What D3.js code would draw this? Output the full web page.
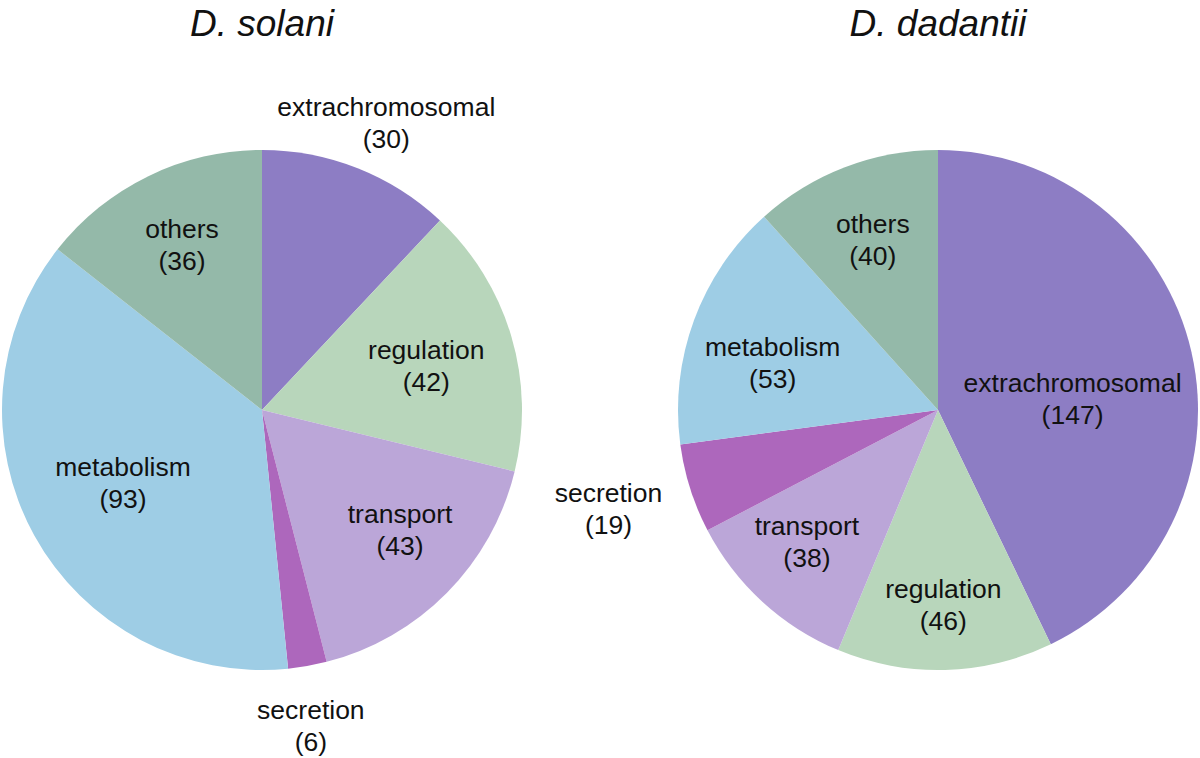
<!DOCTYPE html>
<html>
<head>
<meta charset="utf-8">
<script src="https://cdn.jsdelivr.net/npm/d3@7"></script>
<style>
  body { margin: 0; background: #fff; }
  svg { display: block; }
  text { font-family: "Liberation Sans", Arial, sans-serif; fill: #111; }
</style>
</head>
<body>
<div id="graph"></div>
<script>
// data
var categories = ["extrachromosomal", "regulation", "transport", "secretion", "metabolism", "others"];
var solaniValues = [30, 42, 43, 6, 93, 36];
var dadantiiValues = [147, 46, 38, 19, 53, 40];
var titles = ["D. solani", "D. dadantii"];
var colors = ["#8d7dc4", "#b8d6bb", "#bba6d8", "#ad67bc", "#9ecde5", "#94b9a9"];

// layout: label radius and small angle nudge (deg) for each slice
var solaniLabelR = [313, 170, 183, 320, 157, 183];
var solaniShift = [1.8, 1.6, -3.6, 1.3, 1.1, 0];
var dadantiiLabelR = [135, 195, 186, 344, 172, 182];
var dadantiiShift = [8.2, 0, 2.3, 0.9, -4.2, 0];

var width = 1200, height = 758;
var radius = 260;

var svg = d3.select("#graph").append("svg")
    .attr("width", width)
    .attr("height", height);

var color = d3.scaleOrdinal().domain(categories).range(colors);

var pie = d3.pie().sort(null).value(function(d){ return d.value; });
var arc = d3.arc().innerRadius(0).outerRadius(radius);

var charts = [
  {title: titles[0], values: solaniValues, cx: 262, cy: 410, labelR: solaniLabelR, shift: solaniShift},
  {title: titles[1], values: dadantiiValues, cx: 938, cy: 410, labelR: dadantiiLabelR, shift: dadantiiShift}
];

charts.forEach(function(c){
  var rows = categories.map(function(k, i){ return {name: k, value: c.values[i], i: i}; });

  var g = svg.append("g").attr("transform", "translate(" + c.cx + "," + c.cy + ")");

  g.selectAll("path")
    .data(pie(rows))
    .enter()
    .append("path")
    .attr("d", arc)
    .attr("fill", function(d){ return color(d.data.name); });

  var lab = g.selectAll("g.lab")
    .data(pie(rows))
    .enter()
    .append("g")
    .attr("class", "lab")
    .attr("transform", function(d){
      var a = (d.startAngle + d.endAngle) / 2 + c.shift[d.data.i] * Math.PI / 180;
      var r = c.labelR[d.data.i];
      return "translate(" + (r * Math.sin(a)) + "," + (-r * Math.cos(a)) + ")";
    });

  lab.append("text")
    .attr("y", -7)
    .attr("text-anchor", "middle")
    .style("font-size", "26.5px")
    .text(function(d){ return d.data.name; });

  lab.append("text")
    .attr("y", 25)
    .attr("text-anchor", "middle")
    .style("font-size", "26.5px")
    .text(function(d){ return "(" + d.data.value + ")"; });

  svg.append("text")
    .attr("x", c.cx)
    .attr("y", 36)
    .attr("text-anchor", "middle")
    .style("font-size", "37px")
    .style("font-style", "italic")
    .text(c.title);
});
</script>
</body>
</html>
